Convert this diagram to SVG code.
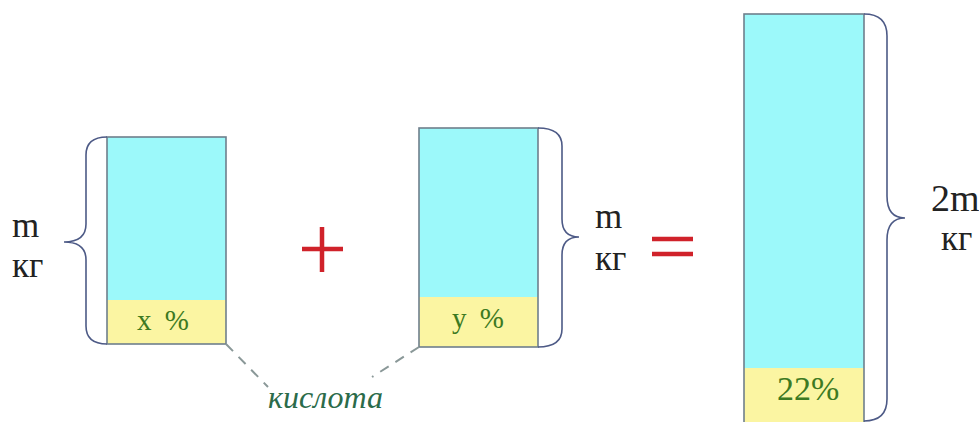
<svg xmlns="http://www.w3.org/2000/svg" width="979" height="422" viewBox="0 0 979 422">
<style>
.water{fill:#9cf9fa;stroke:none}
.acid{fill:#fbf5a2;stroke:none}
.frame{fill:none;stroke:#6f7f8c;stroke-width:1.6}
.brace{fill:none;stroke:#4d5a86;stroke-width:1.6}
.lbl{font-family:"Liberation Serif","Times New Roman",serif;fill:#222;font-size:35px}
.lbl2{font-family:"Liberation Serif","Times New Roman",serif;fill:#222;font-size:38px}
.pct{font-family:"Liberation Serif","Times New Roman",serif;fill:#3d7a22;font-size:29px}
.pct2{font-family:"Liberation Serif","Times New Roman",serif;fill:#3d7a22;font-size:34px}
.acidlbl{font-family:"Liberation Serif","Times New Roman",serif;font-style:italic;font-size:32px;fill:#2b6b4a}
.op{stroke:#d0222a;stroke-width:4.5;fill:none}
.dash{stroke:#8a9898;stroke-width:2;stroke-dasharray:10 8;fill:none}
</style>
<rect width="979" height="422" fill="#ffffff"/>
<g id="vessel1">
<rect class="water" x="107" y="137" width="119" height="163"/>
<rect class="acid" x="107" y="300" width="119" height="44"/>
<rect class="frame" x="107" y="137" width="119" height="207"/>
<text class="pct" x="137" y="330" word-spacing="6">x %</text>
</g>
<g id="brace1">
<path class="brace" d="M107 137 Q86 137 86 155 L86 224 Q86 242 64 242 Q86 242 86 260 L86 326 Q86 344 107 344"/>
<text class="lbl" x="12" y="237">m</text>
<text class="lbl" x="12" y="277">кг</text>
</g>
<g id="plus">
<path class="op" d="M302 249 H343 M322 227 V272"/>
</g>
<g id="vessel2">
<rect class="water" x="419" y="128" width="119" height="169"/>
<rect class="acid" x="419" y="297" width="119" height="50"/>
<rect class="frame" x="419" y="128" width="119" height="219"/>
<text class="pct" x="452" y="328" word-spacing="6">y %</text>
</g>
<g id="brace2">
<path class="brace" d="M538 128 Q562 128 562 146 L562 219 Q562 237 579 237 Q562 237 562 255 L562 329 Q562 347 538 347"/>
<text class="lbl" x="595" y="228">m</text>
<text class="lbl" x="595" y="270">кг</text>
</g>
<g id="equals">
<path class="op" d="M652 239 H693 M652 254 H693"/>
</g>
<g id="vessel3">
<rect class="water" x="744" y="14" width="120" height="354"/>
<rect class="acid" x="744" y="368" width="120" height="60"/>
<rect class="frame" x="744" y="14" width="120" height="414"/>
<text class="pct2" x="777" y="400">22%</text>
</g>
<g id="brace3">
<path class="brace" d="M864 14 Q887 14 887 36 L887 196 Q887 218 905 218 Q887 218 887 240 L887 399 Q887 421 864 421"/>
<text class="lbl2" x="931" y="211">2m</text>
<text class="lbl" x="941" y="250">кг</text>
</g>
<g id="connectors">
<path class="dash" d="M226 344 L268 387"/>
<path class="dash" d="M419 347 L372 377"/>
</g>
<g id="acid-label">
<text class="acidlbl" x="268" y="408">кислота</text>
</g>
</svg>
